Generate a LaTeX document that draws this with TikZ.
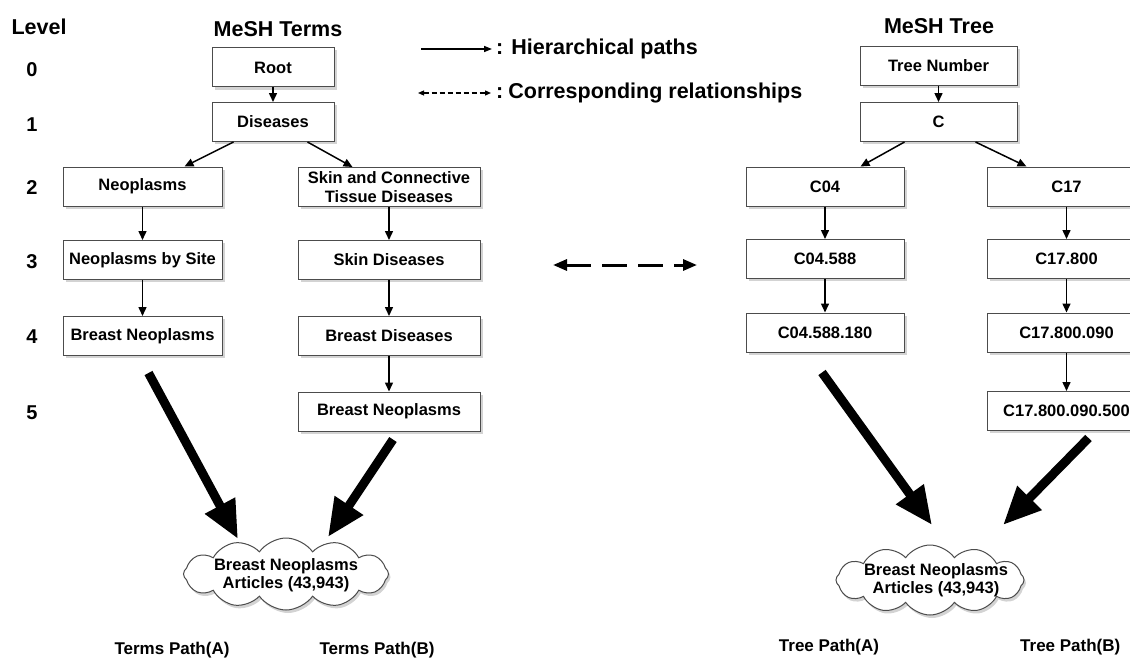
\documentclass[tikz,border=0pt]{standalone}
\usepackage{fontspec}
\setmainfont{Liberation Sans}
\usetikzlibrary{arrows.meta,shapes.symbols,shadows}
\newcommand\bxfont{\fontsize{16.5}{18.5}\selectfont\bfseries}
\newcommand\hdfont{\fontsize{21.5}{25}\selectfont\bfseries}
\newcommand\lvfont{\fontsize{20}{24}\selectfont\bfseries}
\newcommand\ptfont{\fontsize{17}{20}\selectfont\bfseries}
\tikzset{
  box/.style={draw=black!70, line width=1pt, fill=white, minimum height=39pt,
    inner sep=0pt, font=\bxfont, align=center,
    drop shadow={opacity=0.35, shadow xshift=2.5pt, shadow yshift=-2.5pt}},
  cloudbox/.style={cloud, cloud puffs=12, cloud puff arc=110, cloud ignores aspect,
    draw=black!70, line width=1pt, fill=white, inner sep=0pt,
    minimum width=205pt, minimum height=72pt,
    drop shadow={opacity=0.35, shadow xshift=2pt, shadow yshift=-3pt}},
  cloudtext/.style={font=\bxfont, align=center, inner sep=0pt},
  hier/.style={line width=1.5pt, -{Triangle[length=9pt,width=8pt]}},
  bigarrow/.style={line width=9pt, -{Triangle[length=38pt,width=32pt]}},
  corr/.style={line width=3pt, dash pattern=on 25pt off 11pt,
    {Triangle[length=14pt,width=11pt]}-{Triangle[length=14pt,width=11pt]}},
  legsolid/.style={line width=1.5pt, -{Triangle[length=8pt,width=6pt]}},
  legdash/.style={line width=1.2pt, dash pattern=on 5pt off 3pt,
    {Triangle[length=6pt,width=5pt]}-{Triangle[length=6pt,width=5pt]}},
  hd/.style={font=\hdfont, inner sep=0pt},
  lv/.style={font=\lvfont, inner sep=0pt},
  pt/.style={font=\ptfont, inner sep=0pt, anchor=base},
}
\begin{document}
\begin{tikzpicture}[x=1pt, y=-1pt]
\useasboundingbox (0,0) rectangle (1130,661);
\clip (0,0) rectangle (1130,661);

% headings and levels
\node[hd] (level) at (39,27) {Level};
\node[hd] (mterms) at (278,29) {MeSH Terms};
\node[hd] (mtree) at (939,26) {MeSH Tree};
\node[lv] (l0) at (32,70) {0};
\node[lv] (l1) at (32,125) {1};
\node[lv] (l2) at (32,188) {2};
\node[lv] (l3) at (32,262) {3};
\node[lv] (l4) at (32,337) {4};
\node[lv] (l5) at (32,413) {5};

% legend
\coordinate (ls1) at (421,49);
\coordinate (ls2) at (492,49);
\coordinate (ld1) at (418,93);
\coordinate (ld2) at (491,93);
\draw[legsolid] (ls1) -- (ls2);
\draw[legdash] (ld1) -- (ld2);
\node[hd, anchor=west] (leg1) at (496,49) {:\hspace{8pt}Hierarchical paths};
\node[hd, anchor=west] (leg2) at (496,93) {:\hspace{5pt}Corresponding relationships};

% MeSH terms tree
\node[box, minimum width=122pt] (root) at (273,67.5) {Root};
\node[box, minimum width=122pt] (dis) at (273,122) {Diseases};
\node[box, minimum width=159pt] (neo) at (142.5,186.5) {Neoplasms};
\node[box, minimum width=182pt] (skin) at (389,187) {Skin and Connective\\Tissue Diseases};
\node[box, minimum width=159pt] (nbs) at (142.5,260) {Neoplasms by Site};
\node[box, minimum width=182pt] (sd) at (389,260) {Skin Diseases};
\node[box, minimum width=159pt] (bnA) at (142.5,336) {Breast Neoplasms};
\node[box, minimum width=182pt] (bd) at (389,336) {Breast Diseases};
\node[box, minimum width=182pt] (bnB) at (389,411.5) {Breast Neoplasms};

\draw[hier] (root) -- (dis);
\draw[hier] ([xshift=22pt]dis.south west) -- ([xshift=122pt]neo.north west);
\draw[hier] ([xshift=96pt]dis.south west) -- ([xshift=55pt]skin.north west);
\draw[hier] (neo) -- (nbs);
\draw[hier] (nbs) -- (bnA);
\draw[hier] (skin) -- (sd);
\draw[hier] (sd) -- (bd);
\draw[hier] (bd) -- (bnB);

% MeSH tree numbers
\node[box, minimum width=157pt] (tn) at (938.5,66) {Tree Number};
\node[box, minimum width=157pt] (c) at (938.5,122) {C};
\node[box, minimum width=158pt] (c04) at (825,186.5) {C04};
\node[box, minimum width=159pt] (c17) at (1066.5,186.5) {C17};
\node[box, minimum width=158pt] (c04a) at (825,259) {C04.588};
\node[box, minimum width=159pt] (c17a) at (1066.5,259) {C17.800};
\node[box, minimum width=158pt] (c04b) at (825,332.5) {C04.588.180};
\node[box, minimum width=159pt] (c17b) at (1066.5,332.5) {C17.800.090};
\node[box, minimum width=159pt] (c17c) at (1066.5,411) {C17.800.090.500};

\draw[hier] (tn) -- (c);
\draw[hier] ([xshift=45pt]c.south west) -- ([xshift=115pt]c04.north west);
\draw[hier] ([xshift=116pt]c.south west) -- ([xshift=40pt]c17.north west);
\draw[hier] (c04) -- (c04a);
\draw[hier] (c04a) -- (c04b);
\draw[hier] (c17) -- (c17a);
\draw[hier] (c17a) -- (c17b);
\draw[hier] (c17b) -- (c17c);

% correspondence
\coordinate (cl) at (553,265);
\coordinate (cr) at (697,265);
\draw[corr] (cl) -- (cr);

% clouds
\node[cloudbox] (cloudL) at (286,574) {};
\node[cloudtext] (cloudLt) at (286,575) {Breast Neoplasms\\Articles (43,943)};
\node[cloudbox, minimum width=188pt, minimum height=70pt] (cloudR) at (930,580) {};
\node[cloudtext] (cloudRt) at (936,580) {Breast Neoplasms\\Articles (43,943)};

\draw[bigarrow] ([shift={(6,17)}]bnA.south) -- ([shift={(-48,-35)}]cloudL.center);
\draw[bigarrow] ([shift={(4,8)}]bnB.south) -- ([shift={(42,-37)}]cloudL.center);
\draw[bigarrow] ([shift={(-3,20)}]c04b.south) -- ([shift={(2,-55)}]cloudR.center);
\draw[bigarrow] ([shift={(22,7)}]c17c.south) -- ([shift={(73,-55)}]cloudR.center);

% path labels
\node[pt, anchor=base] (tpa) at (172,654) {Terms Path(A)};
\node[pt, anchor=base] (tpb) at (377,654) {Terms Path(B)};
\node[pt, anchor=base] (trpa) at (829,651) {Tree Path(A)};
\node[pt, anchor=base west] (trpb) at (1020,651) {Tree Path(B)};
\end{tikzpicture}
\end{document}
